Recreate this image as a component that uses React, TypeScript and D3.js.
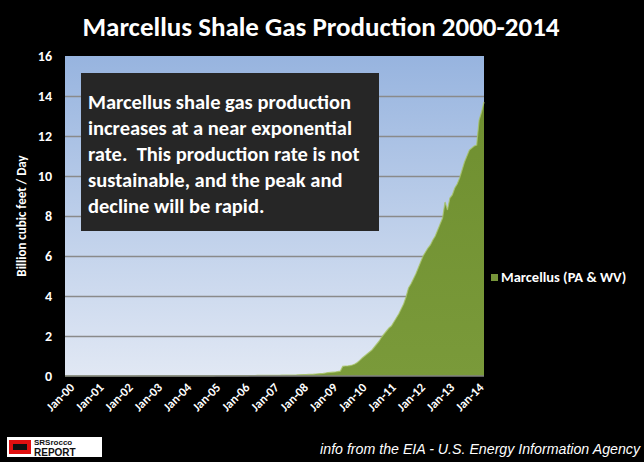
import React, { useEffect, useRef } from "react";
import * as d3 from "d3";

// Monthly Marcellus production (Bcf/d), Jan-2000 .. May-2014
const y2000 = [0.005, 0.005, 0.005, 0.005, 0.005, 0.005, 0.005, 0.005, 0.005, 0.005, 0.005, 0.005];
const y2001 = [0.005, 0.005, 0.005, 0.005, 0.005, 0.005, 0.006, 0.006, 0.006, 0.006, 0.006, 0.006];
const y2002 = [0.006, 0.006, 0.006, 0.006, 0.006, 0.006, 0.007, 0.007, 0.007, 0.007, 0.007, 0.007];
const y2003 = [0.007, 0.007, 0.007, 0.007, 0.008, 0.008, 0.008, 0.008, 0.008, 0.008, 0.008, 0.008];
const y2004 = [0.008, 0.008, 0.009, 0.009, 0.009, 0.009, 0.01, 0.01, 0.01, 0.01, 0.01, 0.01];
const y2005 = [0.011, 0.011, 0.012, 0.012, 0.013, 0.013, 0.014, 0.015, 0.016, 0.017, 0.018, 0.019];
const y2006 = [0.02, 0.021, 0.022, 0.023, 0.024, 0.025, 0.026, 0.027, 0.028, 0.029, 0.03, 0.031];
const y2007 = [0.032, 0.033, 0.035, 0.036, 0.038, 0.04, 0.042, 0.044, 0.046, 0.048, 0.05, 0.053];
const y2008 = [0.06, 0.065, 0.07, 0.075, 0.08, 0.085, 0.09, 0.1, 0.11, 0.12, 0.13, 0.15];
const y2009 = [0.17, 0.18, 0.19, 0.2, 0.22, 0.24, 0.48, 0.5, 0.5, 0.52, 0.55, 0.6];
const y2010 = [0.68, 0.78, 0.9, 1.0, 1.1, 1.2, 1.3, 1.45, 1.6, 1.75, 1.95, 2.1];
const y2011 = [2.25, 2.4, 2.5, 2.7, 2.9, 3.1, 3.35, 3.6, 3.95, 4.4, 4.6, 4.85];
const y2012 = [5.1, 5.4, 5.7, 6.0, 6.2, 6.4, 6.55, 6.8, 7.0, 7.3, 7.6, 7.9];
const y2013 = [8.7, 8.3, 8.9, 9.05, 9.4, 9.6, 9.9, 10.3, 10.7, 11.0, 11.3, 11.4];
const y2014 = [11.5, 11.55, 12.8, 13.2, 13.7];

const production = [
  ...y2000, ...y2001, ...y2002, ...y2003, ...y2004, ...y2005, ...y2006, ...y2007,
  ...y2008, ...y2009, ...y2010, ...y2011, ...y2012, ...y2013, ...y2014,
];

const xTickLabels = [
  "Jan-00", "Jan-01", "Jan-02", "Jan-03", "Jan-04", "Jan-05", "Jan-06", "Jan-07",
  "Jan-08", "Jan-09", "Jan-10", "Jan-11", "Jan-12", "Jan-13", "Jan-14",
];
const yTicks = [0, 2, 4, 6, 8, 10, 12, 14, 16];

const noteLines = [
  "Marcellus shale gas production",
  "increases at a near exponential",
  "rate.  This production rate is not",
  "sustainable, and the peak and",
  "decline will be rapid.",
];

const FONT = "Carlito, Calibri, Lato, 'Open Sans', sans-serif";

export default function App() {
  const svgRef = useRef<SVGSVGElement>(null);

  useEffect(() => {
    if (!svgRef.current) return;
    const root = d3.select(svgRef.current);
    root.selectAll("*").remove();

    const W = 644, H = 462;
    const plot = { left: 65, right: 484, top: 56, bottom: 376 };

    root.attr("width", W).attr("height", H);
    root.append("rect").attr("width", W).attr("height", H).attr("fill", "#000");

    const defs = root.append("defs");
    const bg = defs.append("linearGradient").attr("id", "bg").attr("x1", 0).attr("y1", 0).attr("x2", 0).attr("y2", 1);
    bg.append("stop").attr("offset", "0%").attr("stop-color", "#97b4df");
    bg.append("stop").attr("offset", "100%").attr("stop-color", "#e1e8f4");
    const gr = defs.append("linearGradient").attr("id", "gr").attr("x1", 0).attr("y1", 0).attr("x2", 0).attr("y2", 1);
    gr.append("stop").attr("offset", "0%").attr("stop-color", "#6f8f30");
    gr.append("stop").attr("offset", "100%").attr("stop-color", "#7a9a3a");

    const x = d3.scaleLinear().domain([0, production.length - 1]).range([plot.left, plot.right]);
    const y = d3.scaleLinear().domain([0, 16]).range([plot.bottom, plot.top]);

    // plot background
    root.append("rect")
      .attr("x", plot.left).attr("y", plot.top)
      .attr("width", plot.right - plot.left).attr("height", plot.bottom - plot.top)
      .attr("fill", "url(#bg)");

    // grid
    root.append("g")
      .attr("transform", `translate(${plot.left},0)`)
      .call(d3.axisLeft(y).tickValues(yTicks.filter(v => v > 0 && v < 16)).tickSize(-(plot.right - plot.left)).tickFormat(() => ""))
      .call(g => g.select(".domain").remove())
      .selectAll("line").attr("stroke", "#8a8a8a").attr("stroke-width", 1.5);

    // area
    const area = d3.area<number>()
      .x((_, i) => x(i))
      .y0(y(0))
      .y1(d => y(d));
    root.append("path").datum(production).attr("fill", "url(#gr)").attr("d", area);

    const line = d3.line<number>().x((_, i) => x(i)).y(d => y(d));
    root.append("path").datum(production)
      .attr("fill", "none").attr("stroke", "#a9c46a").attr("stroke-width", 1.2)
      .attr("stroke-opacity", 0.8).attr("d", line);

    // baseline
    root.append("line")
      .attr("x1", plot.left).attr("x2", plot.right)
      .attr("y1", plot.bottom).attr("y2", plot.bottom)
      .attr("stroke", "#808080").attr("stroke-width", 1.5);

    // y tick labels
    root.append("g")
      .attr("transform", `translate(${plot.left},0)`)
      .call(d3.axisLeft(y).tickValues(yTicks).tickSize(0).tickPadding(13).tickFormat(d3.format("d")))
      .call(g => g.select(".domain").remove())
      .selectAll("text")
      .attr("fill", "#fff").style("font-family", FONT).style("font-size", "14px").style("font-weight", "bold");

    // x tick labels
    root.append("g")
      .selectAll("text")
      .data(xTickLabels)
      .join("text")
      .attr("transform", (_, i) => `translate(${x(i * 12) + 4},${plot.bottom + 6}) rotate(-45)`)
      .attr("text-anchor", "end")
      .attr("dy", "0.7em")
      .attr("fill", "#fff")
      .style("font-family", FONT).style("font-size", "12.5px").style("font-weight", "bold")
      .text(d => d);

    // y axis title
    root.append("text")
      .attr("transform", `translate(26,${(plot.top + plot.bottom) / 2}) rotate(-90)`)
      .attr("text-anchor", "middle")
      .attr("fill", "#fff")
      .style("font-family", FONT).style("font-size", "13px").style("font-weight", "bold")
      .text("Billion cubic feet / Day");

    // title
    root.append("text")
      .attr("x", 321).attr("y", 36)
      .attr("text-anchor", "middle")
      .attr("fill", "#fff")
      .style("font-family", FONT).style("font-size", "27px").style("font-weight", "bold")
      .text("Marcellus Shale Gas Production 2000-2014");

    // note box
    root.append("rect")
      .attr("x", 81).attr("y", 73).attr("width", 298).attr("height", 158)
      .attr("fill", "#262626");
    root.append("g")
      .selectAll("text")
      .data(noteLines)
      .join("text")
      .attr("x", 88).attr("y", (_, i) => 109 + i * 26)
      .attr("fill", "#fff")
      .style("white-space", "pre")
      .style("font-family", FONT).style("font-size", "20.5px").style("font-weight", "bold")
      .text(d => d);

    // legend
    root.append("rect").attr("x", 491).attr("y", 274).attr("width", 7).attr("height", 7).attr("fill", "#77953a");
    root.append("text")
      .attr("x", 501).attr("y", 282)
      .attr("fill", "#fff")
      .style("font-family", FONT).style("font-size", "14.5px").style("font-weight", "bold")
      .text("Marcellus (PA & WV)");

    // footer logo
    const logo = root.append("g").attr("transform", "translate(7,437)");
    logo.append("rect").attr("width", 95).attr("height", 20).attr("fill", "#fff");
    logo.append("rect").attr("x", 2).attr("y", 3).attr("width", 22).attr("height", 14).attr("fill", "#e01010");
    logo.append("rect").attr("x", 6).attr("y", 7).attr("width", 14).attr("height", 6).attr("fill", "#111");
    logo.append("text").attr("x", 27).attr("y", 8).attr("fill", "#111")
      .style("font-family", "'Liberation Sans', Arial, sans-serif").style("font-size", "8px").style("font-weight", "bold")
      .text("SRSrocco");
    logo.append("text").attr("x", 27).attr("y", 18.5).attr("fill", "#111")
      .style("font-family", "'Liberation Sans', Arial, sans-serif").style("font-size", "10px").style("font-weight", "bold")
      .text("REPORT");

    // source
    root.append("text")
      .attr("x", 640).attr("y", 454)
      .attr("text-anchor", "end")
      .attr("fill", "#fff")
      .style("font-family", "'Liberation Sans Narrow', 'Liberation Sans', Arial, sans-serif")
      .style("font-size", "14.2px").style("font-style", "italic")
      .text("info from the EIA - U.S. Energy Information Agency");
  }, []);

  return (
    <div style={{ position: "absolute", left: 0, top: 0 }}>
      <svg ref={svgRef} style={{ display: "block" }}></svg>
    </div>
  );
}
